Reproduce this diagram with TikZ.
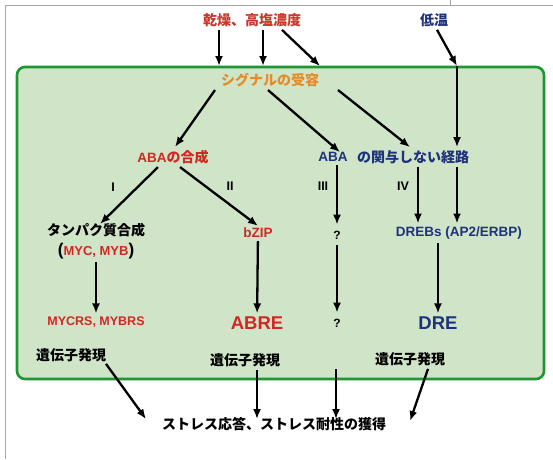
\documentclass[tikz,border=0pt]{standalone}
\usepackage{fontspec}
\usetikzlibrary{arrows.meta}
\newfontfamily\jp{Noto Sans CJK JP}
\newfontfamily\lat{Liberation Sans}
\definecolor{titlered}{RGB}{200,56,42}
\definecolor{lred}{RGB}{210,40,35}
\definecolor{navy}{RGB}{30,50,125}
\definecolor{sigorange}{RGB}{228,140,40}
\definecolor{boxgreen}{RGB}{30,150,50}
\definecolor{boxfill}{RGB}{208,228,200}
\tikzset{
  arr/.style={line width=2.3pt, -{Latex[length=10pt,width=8pt]}},
  jptext/.style={font=\jp\bfseries\fontsize{14}{16}\selectfont, inner sep=3pt},
  latb/.style={font=\lat\bfseries\fontsize{13.5}{15}\selectfont, inner sep=3pt},
  big/.style={font=\lat\bfseries\fontsize{18.5}{20}\selectfont, inner sep=3pt},
  roman/.style={font=\lat\bfseries\fontsize{12.5}{14}\selectfont},
  qnode/.style={font=\lat\bfseries\fontsize{12}{13}\selectfont, inner sep=6pt},
}
\begin{document}
\begin{tikzpicture}[x=1pt,y=-1pt]
\useasboundingbox (0,0) rectangle (553,459);
\fill[white] (0,0) rectangle (553,459);
% scan frame lines
\draw[gray!70, line width=0.8pt] (5,459) -- (5,5) -- (553,5);
\draw[gray!70, line width=0.8pt] (450,0) -- (450,5);
% green box
\draw[line width=2.6pt, draw=boxgreen, fill=boxfill, rounded corners=8pt] (17,67) rectangle (544,379);

% nodes
\node[jptext, text=titlered] (dry) at (252,20) {乾燥、高塩濃度};
\node[jptext, text=navy] (cold) at (434,20) {低温};
\node[jptext, text=sigorange] (signal) at (270,80) {シグナルの受容};
\node[inner sep=3pt, text=lred] (abasyn) at (173,157) {{\lat\bfseries\fontsize{13.5}{15}\selectfont ABA}{\jp\bfseries\fontsize{14}{16}\selectfont の合成}};
\node[latb, text=navy] (aba) at (333,157) {ABA};
\node[jptext, text=navy] (path) at (413,157) {の関与しない経路};
\node[jptext] (tanpaku) at (96,230) {タンパク質合成};
\node[inner sep=3pt] (mycmyb) at (96,251) {{\lat\bfseries\fontsize{17}{18}\selectfont (}{\lat\bfseries\fontsize{13}{15}\selectfont\color{lred}MYC, MYB}{\lat\bfseries\fontsize{17}{18}\selectfont )}};
\node[latb, text=lred] (bzip) at (258,233) {bZIP};
\node[qnode] (q1) at (337,235) {?};
\node[latb, text=navy] (drebs) at (459,233) {DREBs (AP2/ERBP)};
\node[latb, text=lred, font=\lat\bfseries\fontsize{12.5}{14}\selectfont] (mycrs) at (96,322) {MYCRS, MYBRS};
\node[big, text=lred] (abre) at (257,323) {ABRE};
\node[qnode] (q2) at (337,323) {?};
\node[big, text=navy] (dre) at (438,323) {DRE};
\node[jptext] (expr1) at (71,355) {遺伝子発現};
\node[jptext] (expr2) at (245,360) {遺伝子発現};
\node[jptext] (expr3) at (410,359) {遺伝子発現};
\node[jptext] (result) at (274,424) {ストレス応答、ストレス耐性の獲得};
% roman labels
\node[roman] (r1) at (113,187) {I};
\node[roman] (r2) at (230,186) {II};
\node[roman] (r3) at (323,186) {III};
\node[roman] (r4) at (403,186) {IV};

% coordinates on the box top edge
\coordinate (t1) at (219,66);
\coordinate (t2) at (263,66);
\coordinate (t3) at (320,66);
\coordinate (t4) at (457,66);
\coordinate (c4) at (418,0);
\coordinate (q3) at (336,369);

% arrows from the top
\draw[arr] (dry.south -| t1) -- (t1);
\draw[arr] (dry.south -| t2) -- (t2);
\draw[arr] ([xshift=30pt]dry.south) -- (t3);
\draw[arr] ([xshift=3pt]cold.south) -- (t4);
\draw[arr] (t4) -- (path.north -| t4);
\draw[arr] (path.south -| t4) -- (drebs.north -| t4);

% from signal
\draw[arr] ([xshift=-55pt]signal.south) -- ([xshift=2pt]abasyn.north);
\draw[arr] ([xshift=-2pt]signal.south) -- ([xshift=7pt,yshift=-3pt]aba.north);
\draw[arr] ([xshift=68pt]signal.south) -- ([xshift=-3pt]path.north);

% from ABA synthesis
\draw[arr] ([xshift=-15pt]abasyn.south) -- ([xshift=4pt,yshift=-4pt]tanpaku.north);
\draw[arr] ([xshift=7pt]abasyn.south) -- ([yshift=-1pt]bzip.north);
\draw[arr] (aba.south -| q1) -- (q1);
\draw[arr] (path.south -| c4) -- (drebs.north -| c4);

% second level
\draw[arr] (mycmyb) -- (mycrs);
\draw[arr] (bzip) -- (abre);
\draw[arr] (q1) -- (q2);
\draw[arr] (drebs.south -| dre) -- (dre);

% to result
\draw[arr] ([xshift=35pt,yshift=1pt]expr1.south) -- ([xshift=-128pt,yshift=-5pt]result.north);
\draw[arr] (expr2.south -| abre) -- ([yshift=-5pt]result.north -| abre);
\draw[arr] (q3) -- ([yshift=-5pt]result.north -| q3);
\draw[arr] ([xshift=18pt]expr3.south) -- ([xshift=136pt,yshift=-7pt]result.north);
\end{tikzpicture}
\end{document}
